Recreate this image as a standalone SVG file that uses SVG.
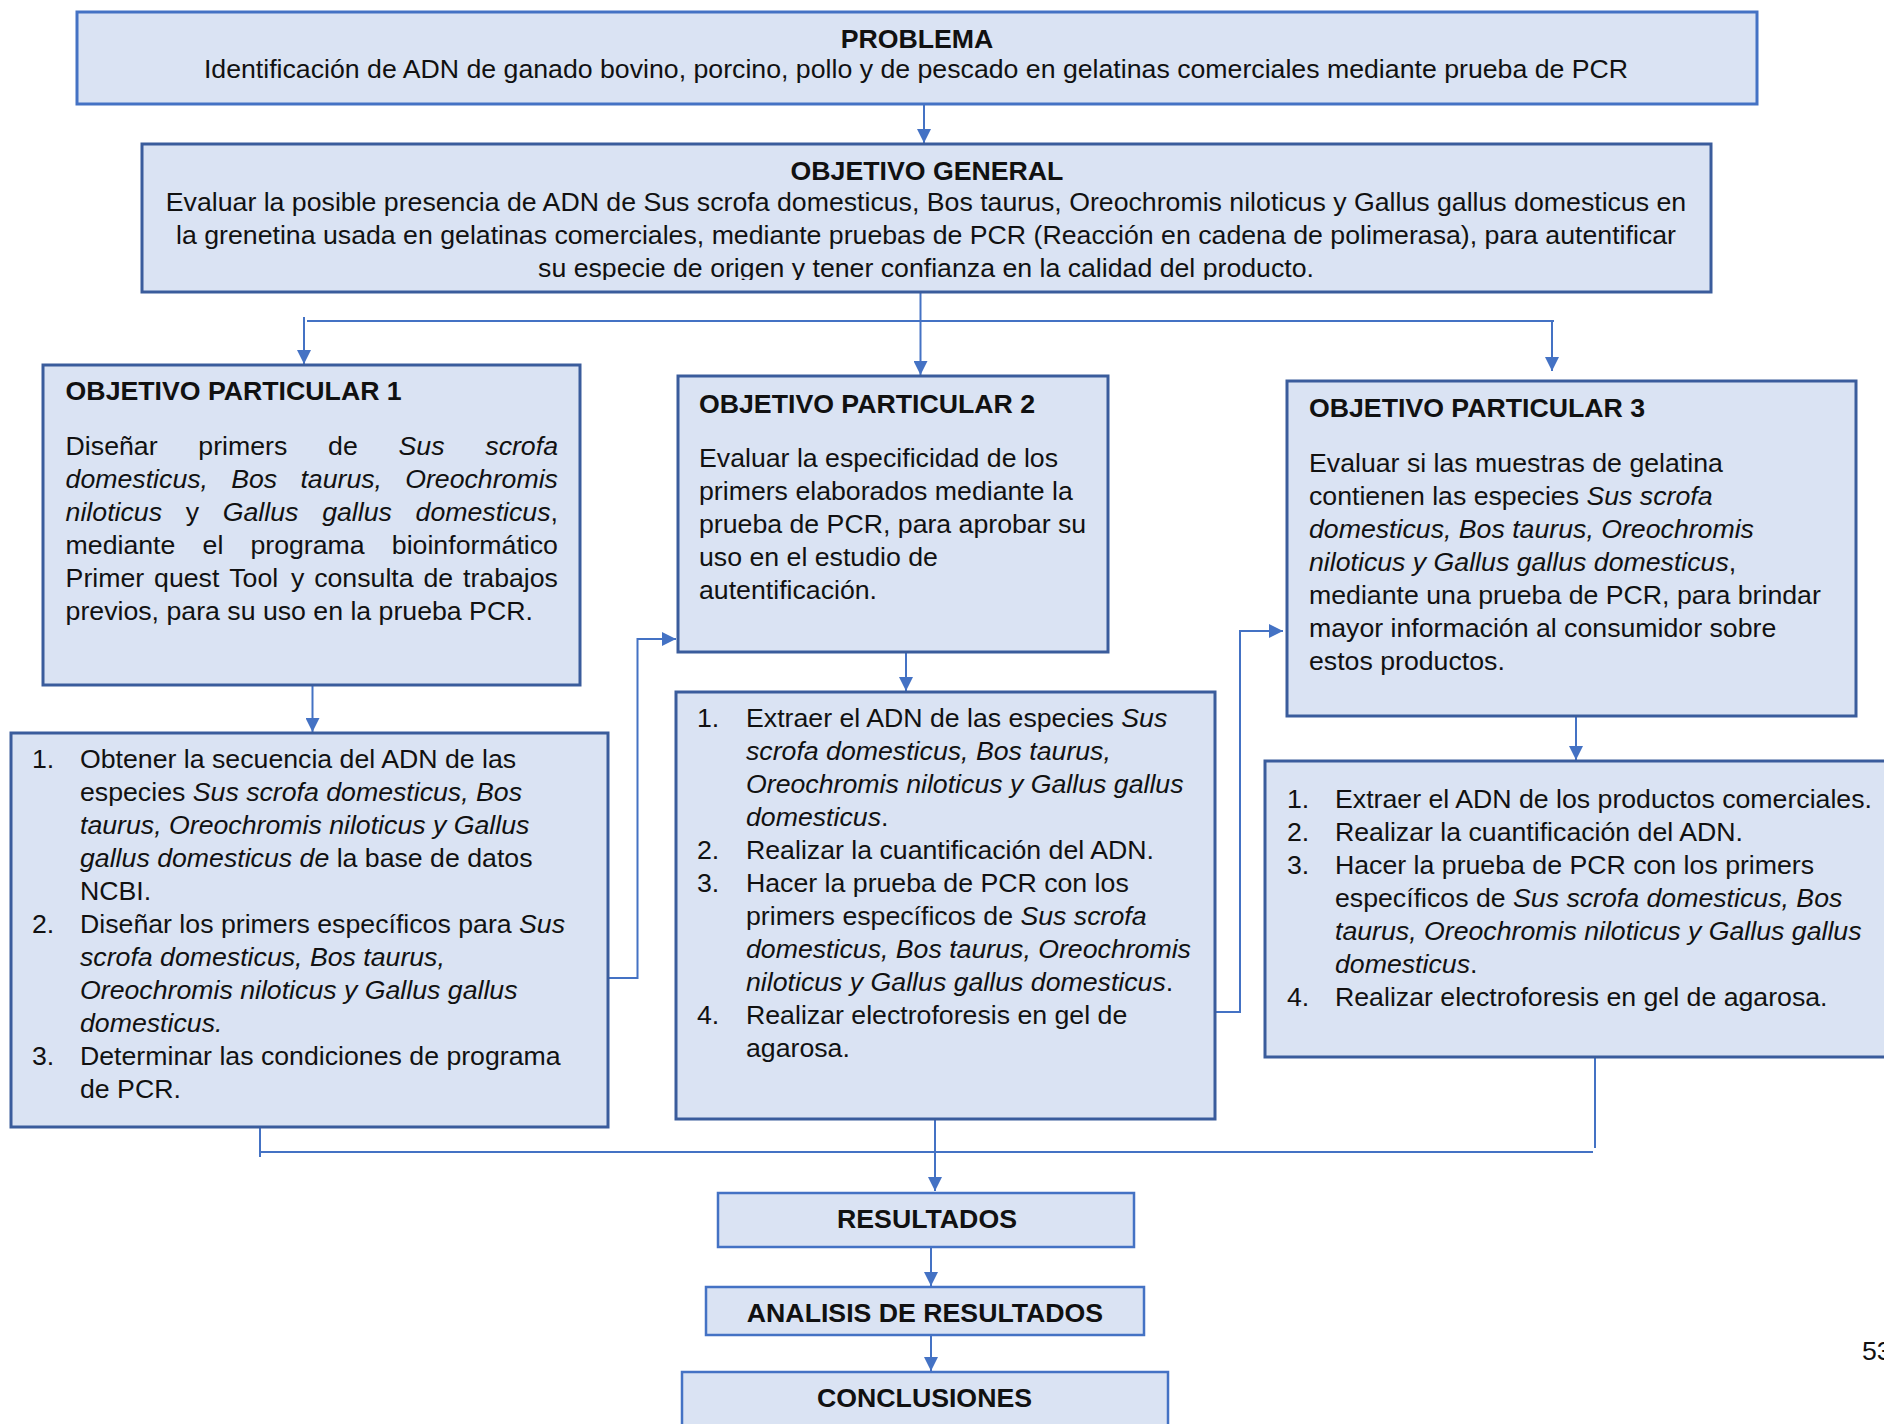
<svg xmlns="http://www.w3.org/2000/svg" width="1884" height="1424" viewBox="0 0 1884 1424">
  <style>
    text { font-family: "Liberation Sans", Arial, Helvetica, sans-serif; font-size: 26.7px; fill: #111; }
    .b { font-weight: bold; }
    .i { font-style: italic; }
    .mid { text-anchor: middle; }
    .box { fill: #DAE3F3; stroke: #3A5C9C; stroke-width: 3; }
    .boxl { fill: #DAE3F3; stroke: #4472C4; stroke-width: 3; }
    .boxs { fill: #DAE3F3; stroke: #4472C4; stroke-width: 2.5; }
    .wire { fill: none; stroke: #4472C4; stroke-width: 2; }
  </style>
  <defs>
    <marker id="arrow" markerUnits="userSpaceOnUse" markerWidth="14" markerHeight="14" refX="14" refY="7" orient="auto">
      <path d="M0,0 L14,7 L0,14 z" fill="#4472C4"/>
    </marker>
    <clipPath id="ogClip">
      <rect x="142" y="144" width="1569" height="136"/>
    </clipPath>
  </defs>

  <rect width="1884" height="1424" fill="#fff"/>

  <!-- connectors -->
  <g id="connectors">
    <path class="wire" d="M924,104 V143" marker-end="url(#arrow)"/>
    <path class="wire" d="M920.5,292 V375" marker-end="url(#arrow)"/>
    <path class="wire" d="M307,321 H1554"/>
    <path class="wire" d="M304,317 V364" marker-end="url(#arrow)"/>
    <path class="wire" d="M1552,321 V371" marker-end="url(#arrow)"/>
    <path class="wire" d="M312.5,675 V732" marker-end="url(#arrow)"/>
    <path class="wire" d="M906,652 V691" marker-end="url(#arrow)"/>
    <path class="wire" d="M1576,716 V760" marker-end="url(#arrow)"/>
    <path class="wire" d="M608,978 H637.5 V639 H676" marker-end="url(#arrow)"/>
    <path class="wire" d="M1215,1012 H1240 V631 H1283" marker-end="url(#arrow)"/>
    <path class="wire" d="M260,1127 V1157"/>
    <path class="wire" d="M260,1152 H1593"/>
    <path class="wire" d="M1595,1057 V1148"/>
    <path class="wire" d="M935,1119 V1191" marker-end="url(#arrow)"/>
    <path class="wire" d="M931,1245 V1286" marker-end="url(#arrow)"/>
    <path class="wire" d="M931,1335 V1371" marker-end="url(#arrow)"/>
  </g>

  <!-- problem statement -->
  <g id="problema">
    <rect class="boxl" x="77" y="12" width="1680" height="92"/>
    <text class="b mid" x="917" y="48">PROBLEMA</text>
    <text class="mid" x="916" y="78">Identificación de ADN de ganado bovino, porcino, pollo y de pescado en gelatinas comerciales mediante prueba de PCR</text>
  </g>

  <!-- general objective -->
  <g id="objetivo-general">
    <rect class="box" x="142" y="144" width="1569" height="148"/>
    <g clip-path="url(#ogClip)">
      <text class="b mid" x="927" y="180">OBJETIVO GENERAL</text>
      <text class="mid" x="926" y="211">Evaluar la posible presencia de ADN de Sus scrofa domesticus, Bos taurus, Oreochromis niloticus y Gallus gallus domesticus en</text>
      <text class="mid" x="926" y="244">la grenetina usada en gelatinas comerciales, mediante pruebas de PCR (Reacción en cadena de polimerasa), para autentificar</text>
      <text class="mid" x="926" y="277">su especie de origen y tener confianza en la calidad del producto.</text>
    </g>
  </g>

  <!-- particular objective 1 (justified body) -->
  <g id="op1">
    <rect class="box" x="43" y="365" width="537" height="320"/>
    <text class="b" x="65.6" y="400">OBJETIVO PARTICULAR 1</text>
    <text y="455"><tspan x="65.6">Diseñar</tspan><tspan x="198.34">primers</tspan><tspan x="328.09">de</tspan><tspan class="i" x="398.54">Sus</tspan><tspan class="i" x="485.3">scrofa</tspan></text>
    <text y="488" class="i"><tspan x="65.6">domesticus,</tspan><tspan x="231.22">Bos</tspan><tspan x="300.4">taurus,</tspan><tspan x="405.2">Oreochromis</tspan></text>
    <text y="521"><tspan class="i" x="65.6">niloticus</tspan><tspan x="185.73">y</tspan><tspan class="i" x="222.77">Gallus</tspan><tspan class="i" x="322.13">gallus</tspan><tspan class="i" x="415.56">domesticus</tspan>,</text>
    <text y="554"><tspan x="65.6">mediante</tspan><tspan x="202.55">el</tspan><tspan x="250.45">programa</tspan><tspan x="391.83">bioinformático</tspan></text>
    <text y="587"><tspan x="65.6">Primer</tspan><tspan x="154.05">quest</tspan><tspan x="229.21">Tool</tspan><tspan x="290.99">y</tspan><tspan x="314.19">consulta</tspan><tspan x="423.47">de</tspan><tspan x="463.01">trabajos</tspan></text>
    <text x="65.6" y="620">previos, para su uso en la prueba PCR.</text>
  </g>

  <!-- particular objective 2 -->
  <g id="op2">
    <rect class="box" x="678" y="376" width="430" height="276"/>
    <text class="b" x="699" y="413">OBJETIVO PARTICULAR 2</text>
    <text x="699" y="467">Evaluar la especificidad de los</text>
    <text x="699" y="500">primers elaborados mediante la</text>
    <text x="699" y="533">prueba de PCR, para aprobar su</text>
    <text x="699" y="566">uso en el estudio de</text>
    <text x="699" y="599">autentificación.</text>
  </g>

  <!-- particular objective 3 -->
  <g id="op3">
    <rect class="box" x="1287" y="381" width="569" height="335"/>
    <text class="b" x="1309" y="417">OBJETIVO PARTICULAR 3</text>
    <text x="1309" y="472">Evaluar si las muestras de gelatina</text>
    <text x="1309" y="505">contienen las especies <tspan class="i">Sus scrofa</tspan></text>
    <text x="1309" y="538" class="i">domesticus, Bos taurus, Oreochromis</text>
    <text x="1309" y="571"><tspan class="i">niloticus y Gallus gallus domesticus</tspan>,</text>
    <text x="1309" y="604">mediante una prueba de PCR, para brindar</text>
    <text x="1309" y="637">mayor información al consumidor sobre</text>
    <text x="1309" y="670">estos productos.</text>
  </g>

  <!-- activities for objective 1 -->
  <g id="lista1">
    <rect class="box" x="11" y="733" width="597" height="394"/>
    <text x="32" y="768">1.</text>
    <text x="80" y="768">Obtener la secuencia del ADN de las</text>
    <text x="80" y="801">especies <tspan class="i">Sus scrofa domesticus, Bos</tspan></text>
    <text x="80" y="834" class="i">taurus, Oreochromis niloticus y Gallus</text>
    <text x="80" y="867"><tspan class="i">gallus domesticus de</tspan> la base de datos</text>
    <text x="80" y="900">NCBI.</text>
    <text x="32" y="933">2.</text>
    <text x="80" y="933">Diseñar los primers específicos para <tspan class="i">Sus</tspan></text>
    <text x="80" y="966" class="i">scrofa domesticus, Bos taurus,</text>
    <text x="80" y="999" class="i">Oreochromis niloticus y Gallus gallus</text>
    <text x="80" y="1032" class="i">domesticus.</text>
    <text x="32" y="1065">3.</text>
    <text x="80" y="1065">Determinar las condiciones de programa</text>
    <text x="80" y="1098">de PCR.</text>
  </g>

  <!-- activities for objective 2 -->
  <g id="lista2">
    <rect class="box" x="676" y="692" width="539" height="427"/>
    <text x="697" y="727">1.</text>
    <text x="746" y="727">Extraer el ADN de las especies <tspan class="i">Sus</tspan></text>
    <text x="746" y="760" class="i">scrofa domesticus, Bos taurus,</text>
    <text x="746" y="793" class="i">Oreochromis niloticus y Gallus gallus</text>
    <text x="746" y="826"><tspan class="i">domesticus</tspan>.</text>
    <text x="697" y="859">2.</text>
    <text x="746" y="859">Realizar la cuantificación del ADN.</text>
    <text x="697" y="892">3.</text>
    <text x="746" y="892">Hacer la prueba de PCR con los</text>
    <text x="746" y="925">primers específicos de <tspan class="i">Sus scrofa</tspan></text>
    <text x="746" y="958" class="i">domesticus, Bos taurus, Oreochromis</text>
    <text x="746" y="991"><tspan class="i">niloticus y Gallus gallus domesticus</tspan>.</text>
    <text x="697" y="1024">4.</text>
    <text x="746" y="1024">Realizar electroforesis en gel de</text>
    <text x="746" y="1057">agarosa.</text>
  </g>

  <!-- activities for objective 3 -->
  <g id="lista3">
    <rect class="box" x="1265" y="761" width="640" height="296"/>
    <text x="1287" y="808">1.</text>
    <text x="1335" y="808">Extraer el ADN de los productos comerciales.</text>
    <text x="1287" y="841">2.</text>
    <text x="1335" y="841">Realizar la cuantificación del ADN.</text>
    <text x="1287" y="874">3.</text>
    <text x="1335" y="874">Hacer la prueba de PCR con los primers</text>
    <text x="1335" y="907">específicos de <tspan class="i">Sus scrofa domesticus, Bos</tspan></text>
    <text x="1335" y="940" class="i">taurus, Oreochromis niloticus y Gallus gallus</text>
    <text x="1335" y="973"><tspan class="i">domesticus</tspan>.</text>
    <text x="1287" y="1006">4.</text>
    <text x="1335" y="1006">Realizar electroforesis en gel de agarosa.</text>
  </g>

  <!-- closing steps -->
  <g id="resultados">
    <rect class="boxs" x="718" y="1193" width="416" height="54"/>
    <text class="b mid" x="927" y="1228">RESULTADOS</text>
  </g>
  <g id="analisis">
    <rect class="boxs" x="706" y="1287" width="438" height="48"/>
    <text class="b mid" x="925" y="1322">ANALISIS DE RESULTADOS</text>
  </g>
  <g id="conclusiones">
    <rect class="boxs" x="682" y="1372" width="486" height="70"/>
    <text class="b mid" x="924.5" y="1407">CONCLUSIONES</text>
  </g>

  <!-- page number -->
  <text x="1862" y="1360">53</text>
</svg>
